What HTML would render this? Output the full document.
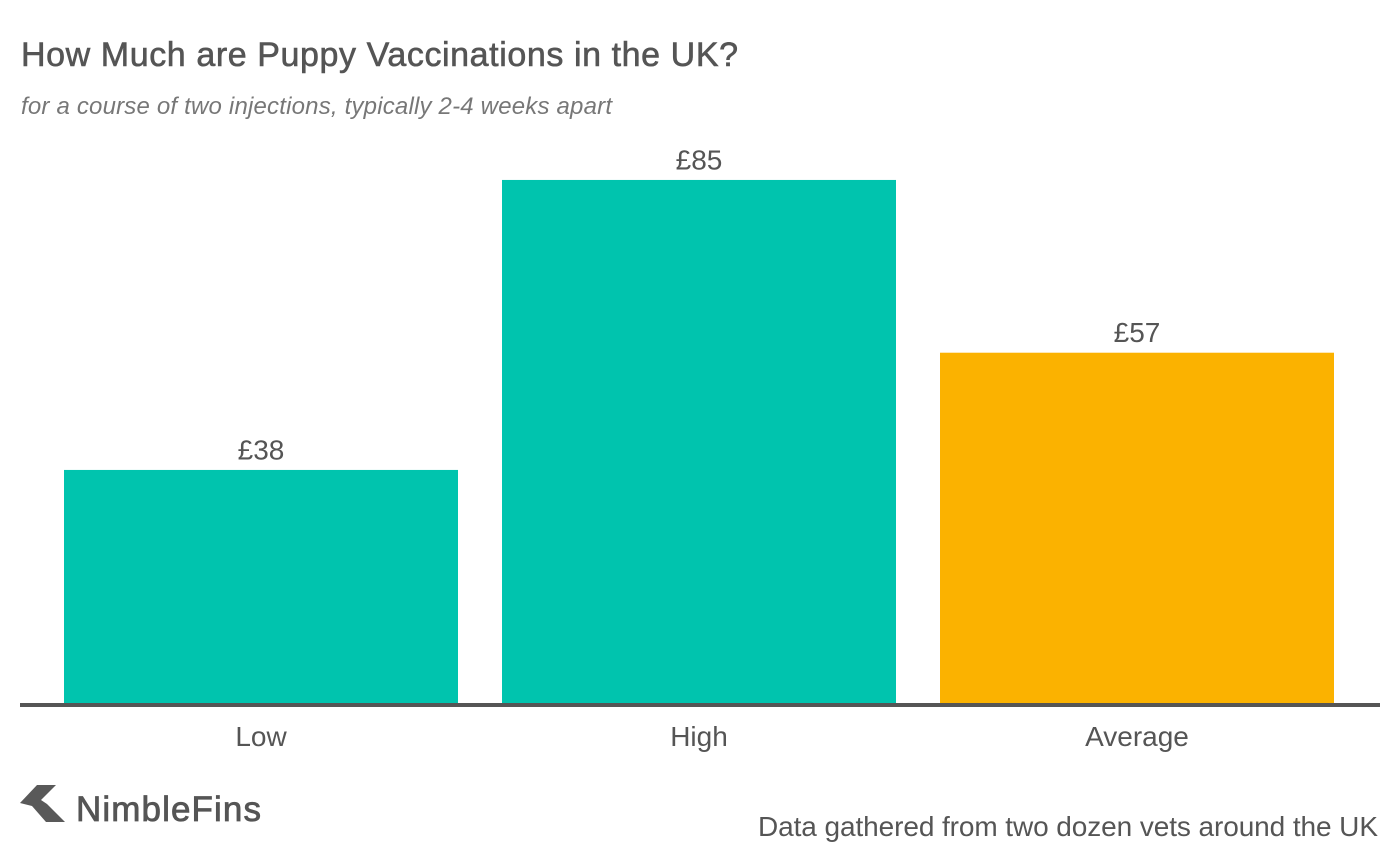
<!DOCTYPE html>
<html>
<head>
<meta charset="utf-8">
<title>How Much are Puppy Vaccinations in the UK?</title>
<style>
html,body{margin:0;padding:0;background:#fff;}
svg{display:block;}
text{font-family:"Liberation Sans",sans-serif;fill:#555;}
</style>
</head>
<body>
<svg id="chart" width="1400" height="862" viewBox="0 0 1400 862" xmlns="http://www.w3.org/2000/svg">
<rect width="1400" height="862" fill="#fff"/>
<text x="21" y="66" font-size="34" stroke="#555" stroke-width="0.6" textLength="717" lengthAdjust="spacing">How Much are Puppy Vaccinations in the UK?</text>
<text x="21" y="114" font-size="24" font-style="italic" style="fill:#777" textLength="591" lengthAdjust="spacing">for a course of two injections, typically 2-4 weeks apart</text>
<g id="bars"></g>
<rect x="20" y="703" width="1360" height="4" fill="#555"/>
<g id="xlabels"></g>
<g>
<polygon points="20,803 37,785 56,785 41,800 47,804 65,822 46,822 32,806" fill="#595959"/>
<text x="76" y="821" font-size="35" stroke="#555" stroke-width="0.8" textLength="185" lengthAdjust="spacing">NimbleFins</text>
</g>
<text x="1378" y="836" font-size="28" text-anchor="end" textLength="620" lengthAdjust="spacing">Data gathered from two dozen vets around the UK</text>
</svg>
<script>
const categories = ["Low", "High", "Average"];
const values = [38, 85, 57];
const valueLabels = ["£38", "£85", "£57"];
const barColors = ["#00c4ae", "#00c4ae", "#fbb200"];

const NS = "http://www.w3.org/2000/svg";
const plotLeft = 20, plotRight = 1378, baseline = 704.4, pxPerUnit = 6.17, slotPad = 44;
function xBand(i) {
  const slot = (plotRight - plotLeft - slotPad) / categories.length;
  return { x: plotLeft + slotPad + i * slot, w: slot - slotPad };
}
function yScale(v) { return baseline - v * pxPerUnit; }

const barsG = document.getElementById("bars");
const labelsG = document.getElementById("xlabels");
categories.forEach(function (cat, i) {
  const b = xBand(i);
  const top = yScale(values[i]);

  const r = document.createElementNS(NS, "rect");
  r.setAttribute("x", b.x);
  r.setAttribute("y", top);
  r.setAttribute("width", b.w);
  r.setAttribute("height", baseline - top);
  r.setAttribute("fill", barColors[i]);
  
  
  barsG.appendChild(r);

  const v = document.createElementNS(NS, "text");
  v.setAttribute("x", b.x + b.w / 2);
  v.setAttribute("y", top - 10.5);
  v.setAttribute("font-size", "28");
  v.setAttribute("text-anchor", "middle");
  v.textContent = valueLabels[i];
  
  
  barsG.appendChild(v);

  const c = document.createElementNS(NS, "text");
  c.setAttribute("x", b.x + b.w / 2);
  c.setAttribute("y", 746);
  c.setAttribute("font-size", "28");
  c.setAttribute("text-anchor", "middle");
  c.textContent = cat;
  
  
  labelsG.appendChild(c);
});
</script>
</body>
</html>
